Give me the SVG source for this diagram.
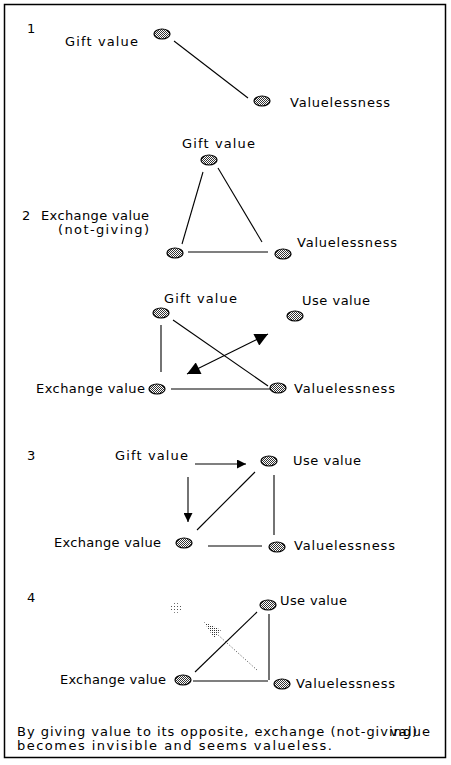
<svg xmlns="http://www.w3.org/2000/svg" width="451" height="765" viewBox="0 0 451 765">
<style>
text{font-family:"DejaVu Sans","Liberation Sans",sans-serif;font-size:13px;fill:#000}
.ln{stroke:#000;stroke-width:1.1;fill:none}
.node{fill:url(#chk);stroke:#000;stroke-width:1.2}
</style>
<defs>
<pattern id="chk" width="2" height="2" patternUnits="userSpaceOnUse"><rect width="2" height="2" fill="#fff"/><rect width="1" height="1" fill="#333"/><rect x="1" y="1" width="1" height="1" fill="#333"/></pattern>
<pattern id="dots" width="2" height="2" patternUnits="userSpaceOnUse"><rect width="1" height="1" fill="#333"/></pattern>
<pattern id="sparse" width="3" height="3" patternUnits="userSpaceOnUse"><rect width="1" height="1" fill="#555"/></pattern>
<marker id="ah" viewBox="0 0 10 10" refX="10" refY="5" markerWidth="14" markerHeight="9" markerUnits="userSpaceOnUse" orient="auto-start-reverse"><path d="M0,0 L10,5 L0,10 Z" fill="#000"/></marker>
<marker id="ahb" viewBox="0 0 10 10" refX="10" refY="5" markerWidth="14" markerHeight="13" markerUnits="userSpaceOnUse" orient="auto-start-reverse"><path d="M0,0 L10,5 L0,10 Z" fill="#000"/></marker>
</defs>
<rect x="4.5" y="4.5" width="441" height="753" fill="#fff" stroke="#000" stroke-width="1.5"/>

<g id="connectors">
<line class="ln" x1="174" y1="41" x2="248" y2="98"/>
<line class="ln" x1="203" y1="172" x2="182" y2="244"/>
<line class="ln" x1="218" y1="168" x2="262" y2="242"/>
<line class="ln" x1="188" y1="252" x2="268" y2="252" stroke-width="1.5"/>
<line class="ln" x1="161" y1="325" x2="161" y2="372"/>
<line class="ln" x1="173" y1="320" x2="268" y2="386"/>
<line class="ln" x1="187" y1="374" x2="268" y2="334" marker-start="url(#ahb)" marker-end="url(#ahb)"/>
<line class="ln" x1="171" y1="389" x2="272" y2="389"/>
<line class="ln" x1="195" y1="464" x2="246" y2="464" marker-end="url(#ah)"/>
<line class="ln" x1="188" y1="477" x2="188" y2="522" marker-end="url(#ah)"/>
<line class="ln" x1="197" y1="530" x2="255" y2="472"/>
<line class="ln" x1="274" y1="475" x2="274" y2="535"/>
<line class="ln" x1="208" y1="546" x2="262" y2="546"/>
<line class="ln" x1="195" y1="672" x2="257" y2="612"/>
<line class="ln" x1="269" y1="614" x2="269" y2="680"/>
<line class="ln" x1="193" y1="681" x2="268" y2="681"/>
<line x1="257" y1="670" x2="217" y2="634" stroke="#444" stroke-width="1" stroke-dasharray="1 2"/>
<polygon points="204,622 221,630 214,638" fill="url(#dots)"/>
</g>

<g id="labels">
<text x="27" y="33">1</text>
<text x="22" y="220">2</text>
<text x="27" y="460">3</text>
<text x="27" y="602">4</text>
</g>

<g id="s1-gift"><ellipse class="node" cx="162" cy="34" rx="8" ry="5"/><text x="65" y="46" textLength="73" lengthAdjust="spacing">Gift value</text></g>
<g id="s1-valueless"><ellipse class="node" cx="262" cy="101" rx="8" ry="5"/><text x="290" y="107" textLength="100" lengthAdjust="spacing">Valuelessness</text></g>

<g id="s2-gift"><ellipse class="node" cx="209" cy="160" rx="8" ry="5"/><text x="182" y="148" textLength="73" lengthAdjust="spacing">Gift value</text></g>
<g id="s2-exchange"><ellipse class="node" cx="175" cy="253" rx="8" ry="5"/><text x="41" y="220" textLength="108" lengthAdjust="spacing">Exchange value</text><text x="58" y="234" textLength="91" lengthAdjust="spacing">(not-giving)</text></g>
<g id="s2-valueless"><ellipse class="node" cx="283" cy="254" rx="8" ry="5"/><text x="297" y="247" textLength="100" lengthAdjust="spacing">Valuelessness</text></g>

<g id="s3-gift"><ellipse class="node" cx="161" cy="313" rx="8" ry="5"/><text x="164" y="303" textLength="73" lengthAdjust="spacing">Gift value</text></g>
<g id="s3-use"><ellipse class="node" cx="295" cy="316" rx="8" ry="5"/><text x="302" y="305" textLength="68" lengthAdjust="spacing">Use value</text></g>
<g id="s3-exchange"><ellipse class="node" cx="157" cy="389" rx="8" ry="5"/><text x="36" y="393" textLength="109" lengthAdjust="spacing">Exchange value</text></g>
<g id="s3-valueless"><ellipse class="node" cx="278" cy="388" rx="8" ry="5"/><text x="294" y="393" textLength="101" lengthAdjust="spacing">Valuelessness</text></g>

<g id="s4-gift"><text x="115" y="460" textLength="73" lengthAdjust="spacing">Gift value</text></g>
<g id="s4-use"><ellipse class="node" cx="269" cy="461" rx="8" ry="5"/><text x="293" y="465" textLength="68" lengthAdjust="spacing">Use value</text></g>
<g id="s4-exchange"><ellipse class="node" cx="184" cy="543" rx="8" ry="5"/><text x="54" y="547" textLength="107" lengthAdjust="spacing">Exchange value</text></g>
<g id="s4-valueless"><ellipse class="node" cx="277" cy="547" rx="8" ry="5"/><text x="294" y="550" textLength="101" lengthAdjust="spacing">Valuelessness</text></g>

<g id="s5-gift"><ellipse cx="176" cy="608" rx="7" ry="5" fill="url(#sparse)"/></g>
<g id="s5-use"><ellipse class="node" cx="268" cy="605" rx="8" ry="5"/><text x="280" y="605" textLength="67" lengthAdjust="spacing">Use value</text></g>
<g id="s5-exchange"><ellipse class="node" cx="183" cy="680" rx="8" ry="5"/><text x="60" y="684" textLength="106" lengthAdjust="spacing">Exchange value</text></g>
<g id="s5-valueless"><ellipse class="node" cx="282" cy="684" rx="8" ry="5"/><text x="296" y="688" textLength="99" lengthAdjust="spacing">Valuelessness</text></g>

<g id="caption">
<text x="17" y="736" textLength="400" lengthAdjust="spacing">By giving value to its opposite, exchange (not-giving)</text>
<text x="390" y="736" textLength="40" lengthAdjust="spacing">value</text>
<text x="17" y="750" textLength="315" lengthAdjust="spacing">becomes invisible and seems valueless.</text>
</g>
</svg>
